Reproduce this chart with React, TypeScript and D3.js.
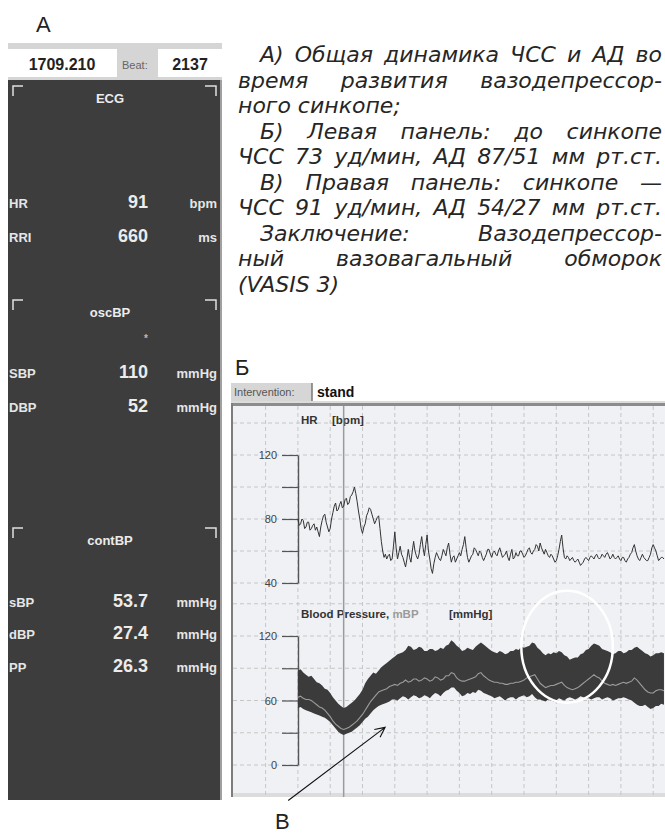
import React, { useRef, useEffect } from 'react';
import * as d3 from 'd3';

const W = 665;
const H = 834;

// monitor readout (panel A)
const timeValue = '1709.210';
const beatValue = '2137';
const groupNames = ['ECG', 'oscBP', 'contBP'];
const rowLabels = ['HR', 'RRI', 'SBP', 'DBP', 'sBP', 'dBP', 'PP'];
const rowValues = ['91', '660', '110', '52', '53.7', '27.4', '26.3'];
const rowUnits = ['bpm', 'ms', 'mmHg', 'mmHg', 'mmHg', 'mmHg', 'mmHg'];

// caption text, one entry per printed line
const captionLines = [
  'А) Общая динамика ЧСС и АД во',
  'время развития вазодепрессор-',
  'ного синкопе;',
  'Б) Левая панель: до синкопе',
  'ЧСС 73 уд/мин, АД 87/51 мм рт.ст.',
  'В) Правая панель: синкопе —',
  'ЧСС 91 уд/мин, АД 54/27 мм рт.ст.',
  'Заключение: Вазодепрессор-',
  'ный вазовагальный обморок',
  '(VASIS 3)',
];
const captionIndent = [true, false, false, true, false, true, false, true, false, false];
const captionJustify = [true, true, false, true, true, true, true, true, true, false];

// HR trace, bpm, one sample every 2.5 s starting at t = 120 s
const hrStart = 120;
const hrStep = 2.5;
const hrValues = [
  80, 76, 77, 80, 79, 74, 75, 78, 78, 73, 74, 76, 77, 73, 75, 72, 69, 75, 79, 82,
  83, 78, 75, 72, 74, 80, 84, 88, 90, 85, 86, 89, 91, 87, 88, 92, 93, 89, 90, 94,
  95, 97, 100, 96, 91, 85, 80, 74, 71, 75, 77, 82, 84, 87, 86, 83, 80, 77, 79, 81,
  82, 74, 66, 60, 56, 58, 55, 57, 58, 54, 55, 63, 72, 62, 55, 59, 63, 58, 56, 53,
  50, 55, 61, 56, 53, 60, 66, 60, 57, 55, 58, 64, 69, 62, 57, 64, 70, 60, 55, 49,
  46, 52, 56, 59, 57, 55, 54, 57, 61, 59, 57, 62, 65, 58, 53, 56, 57, 53, 55, 57,
  59, 57, 61, 64, 69, 62, 56, 53, 55, 57, 58, 62, 61, 59, 57, 60, 59, 56, 54, 56,
  58, 61, 61, 58, 56, 59, 60, 58, 57, 60, 62, 59, 56, 57, 58, 60, 56, 54, 58, 61,
  55, 56, 59, 57, 57, 60, 60, 58, 56, 57, 59, 61, 62, 59, 58, 60, 61, 64, 63, 60,
  65, 62, 60, 58, 61, 59, 57, 56, 58, 57, 55, 53, 54, 57, 61, 66, 70, 62, 56, 55,
  57, 56, 54, 55, 56, 54, 53, 54, 55, 53, 51, 52, 53, 55, 56, 55, 54, 56, 57, 56,
  55, 57, 58, 56, 55, 56, 58, 57, 56, 58, 59, 57, 55, 56, 58, 56, 55, 56, 57, 55,
  54, 56, 56, 54, 53, 55, 56, 58, 59, 62, 64, 60, 57, 55, 54, 56, 58, 56, 55, 54,
  54, 56, 58, 62, 64, 62, 60, 57, 54, 55, 56, 56, 55,
];

// blood pressure envelope and mean, mmHg, one sample every 5 s from t = 120 s
const bpStart = 120;
const bpStep = 5;
const bpSys = [
  88, 89, 86, 84, 82, 83, 80, 77, 76, 74, 71, 70, 67, 63, 60, 57, 55, 53, 54, 56,
  58, 60, 63, 66, 70, 76, 80, 83, 86, 85, 88, 91, 93, 95, 97, 99, 101, 103, 104, 105,
  107, 111, 110, 107, 108, 110, 109, 106, 106, 108, 108, 106, 107, 109, 108, 111, 112, 116, 114, 111,
  109, 106, 107, 109, 108, 107, 110, 112, 114, 112, 110, 108, 106, 105, 104, 106, 105, 103, 104, 106,
  106, 108, 107, 110, 109, 110, 111, 114, 113, 109, 107, 104, 102, 104, 103, 105, 104, 106, 105, 102,
  101, 98, 99, 100, 100, 103, 104, 107, 108, 111, 113, 112, 111, 108, 107, 106, 105, 103, 104, 106,
  106, 104, 105, 107, 107, 109, 110, 108, 106, 104, 103, 101, 102, 104, 104, 105, 104,
];
const bpDia = [
  53, 54, 52, 51, 50, 49, 48, 47, 46, 45, 44, 42, 40, 37, 34, 31, 29, 28, 29, 30,
  31, 33, 35, 37, 40, 43, 45, 48, 51, 53, 55, 56, 57, 58, 59, 61, 61, 60, 62, 64,
  63, 61, 63, 65, 64, 62, 63, 65, 64, 62, 65, 67, 66, 64, 67, 69, 70, 72, 72, 69,
  67, 64, 65, 67, 66, 68, 67, 70, 69, 67, 66, 65, 64, 62, 63, 64, 62, 60, 62, 63,
  63, 61, 63, 64, 65, 63, 64, 66, 63, 61, 61, 60, 59, 61, 60, 59, 60, 62, 61, 60,
  62, 63, 62, 61, 62, 64, 63, 62, 62, 61, 62, 63, 63, 61, 62, 63, 62, 60, 61, 62,
  62, 63, 62, 61, 60, 58, 56, 55, 55, 56, 54, 52, 53, 55, 55, 57, 56,
];
const bpMean = [
  63, 64, 62, 61, 61, 60, 58, 56, 54, 53, 51, 48, 45, 41, 38, 36, 34, 33, 34, 35,
  37, 39, 41, 44, 47, 51, 55, 59, 62, 65, 68, 69, 70, 71, 73, 74, 75, 74, 76, 77,
  79, 77, 78, 80, 80, 78, 79, 81, 80, 78, 79, 82, 81, 79, 80, 83, 83, 86, 85, 81,
  79, 78, 78, 79, 80, 81, 82, 85, 86, 83, 81, 79, 78, 77, 77, 76, 76, 75, 75, 76,
  76, 77, 77, 78, 79, 81, 82, 83, 84, 80, 76, 74, 72, 73, 74, 74, 75, 76, 77, 74,
  72, 71, 70, 71, 72, 74, 76, 78, 80, 82, 84, 82, 81, 78, 76, 75, 74, 75, 74, 75,
  76, 77, 76, 77, 78, 81, 79, 76, 73, 70, 68, 67, 67, 69, 70, 70, 69,
];

const hrTicks = [120, 100, 80, 60, 40];
const hrLabels = [120, 80, 40];
const bpTicks = [120, 90, 60, 30, 0];
const bpLabels = [120, 60, 0];
const cursorTime = 205;

const SANS = '"Liberation Sans", Arial, sans-serif';

const App = () => {
  const svgRef = useRef(null);

  useEffect(() => {
    const svg = d3.select(svgRef.current);
    svg.selectAll('*').remove();
    svg.append('rect').attr('width', W).attr('height', H).attr('fill', '#fff');

    // ---------- panel A: monitor ----------
    const mon = svg.append('g').attr('font-family', SANS).attr('font-weight', 'bold');
    mon.append('rect').attr('x', 8).attr('y', 43).attr('width', 214).attr('height', 37).attr('fill', '#d5d5d5');
    mon.append('rect').attr('x', 8).attr('y', 49).attr('width', 109).attr('height', 28).attr('fill', '#fff');
    mon.append('rect').attr('x', 158).attr('y', 49).attr('width', 64).attr('height', 28).attr('fill', '#fff');
    mon.append('text').attr('x', 62).attr('y', 70).attr('text-anchor', 'middle')
      .attr('font-size', 16).attr('fill', '#222').text(timeValue);
    mon.append('text').attr('x', 122).attr('y', 69).attr('font-weight', 'normal')
      .attr('font-size', 11).attr('fill', '#666').text('Beat:');
    mon.append('text').attr('x', 190).attr('y', 70).attr('text-anchor', 'middle')
      .attr('font-size', 16).attr('fill', '#222').text(beatValue);

    mon.append('rect').attr('x', 8).attr('y', 80).attr('width', 212).attr('height', 720).attr('fill', '#3d3d3d');
    mon.append('rect').attr('x', 220).attr('y', 80).attr('width', 2).attr('height', 720).attr('fill', '#a0a0a0');

    const groupY = [103, 317, 545];
    groupNames.forEach((g, i) => {
      const by = groupY[i] - 17;
      mon.append('path')
        .attr('d', `M13,${by + 10}V${by}H23 M205,${by}H216V${by + 10}`)
        .attr('fill', 'none').attr('stroke', '#e0e0e0').attr('stroke-width', 1.5);
      mon.append('text').attr('x', 110).attr('y', groupY[i]).attr('text-anchor', 'middle')
        .attr('font-size', 13).attr('fill', '#ececec').text(g);
    });
    mon.append('text').attr('x', 146).attr('y', 342).attr('text-anchor', 'middle')
      .attr('font-size', 10).attr('fill', '#bbb').text('*');

    const rowY = [208, 242, 378, 412, 607, 639, 672];
    rowLabels.forEach((lab, i) => {
      mon.append('text').attr('x', 9).attr('y', rowY[i]).attr('font-size', 13).attr('fill', '#e6e6e6').text(lab);
      mon.append('text').attr('x', 148).attr('y', rowY[i]).attr('text-anchor', 'end')
        .attr('font-size', 18).attr('fill', '#ececec').text(rowValues[i]);
      mon.append('text').attr('x', 217).attr('y', rowY[i]).attr('text-anchor', 'end')
        .attr('font-size', 13).attr('fill', '#e6e6e6').text(rowUnits[i]);
    });

    // ---------- caption (justified) ----------
    const fs = 22;
    const cap = svg.append('g')
      .attr('font-family', '"DejaVu Sans", Verdana, sans-serif')
      .attr('font-style', 'italic').attr('font-size', fs).attr('fill', '#262626');
    captionLines.forEach((line, i) => {
      const y = 62 + i * 25.5;
      const left = 238 + (captionIndent[i] ? 22 : 0);
      const right = 662;
      const words = line.split(' ');
      const nodes = words.map(w => cap.append('text').attr('y', y).text(w));
      const widths = nodes.map(n => n.node().getComputedTextLength());
      const space = fs * 0.318;
      let gap = space;
      if (captionJustify[i] && words.length > 1) {
        gap = Math.max(space * 0.7, (right - left - d3.sum(widths)) / (words.length - 1));
      }
      let cx = left;
      nodes.forEach((n, j) => {
        n.attr('x', cx);
        cx += widths[j] + gap;
      });
    });

    // ---------- panel Б: chart ----------
    const x = d3.scaleLinear().domain([0, 780]).range([233.3, 653.2]);
    const yHR = d3.scaleLinear().domain([40, 120]).range([583, 455]);
    const yBP = d3.scaleLinear().domain([0, 120]).range([765, 636]);

    const top = 406;
    const bottom = 797;
    const cg = svg.append('g');

    cg.append('rect').attr('x', 231).attr('y', 383).attr('width', 81).attr('height', 18).attr('fill', '#d6d6d6');
    cg.append('line').attr('x1', 312).attr('x2', 312).attr('y1', 383).attr('y2', 401)
      .attr('stroke', '#777').attr('stroke-width', 1.5);
    cg.append('text').attr('x', 234).attr('y', 396).attr('font-family', SANS)
      .attr('font-size', 11).attr('fill', '#555').text('Intervention:');
    cg.append('text').attr('x', 317).attr('y', 397).attr('font-family', SANS).attr('font-weight', 'bold')
      .attr('font-size', 14).attr('fill', '#111').text('stand');
    cg.append('rect').attr('x', 231).attr('y', 401).attr('width', W - 231).attr('height', 2).attr('fill', '#dcdcdc');
    cg.append('rect').attr('x', 231).attr('y', 403).attr('width', W - 231).attr('height', 3).attr('fill', '#8c8c8c');
    cg.append('rect').attr('x', 231).attr('y', top).attr('width', W - 231).attr('height', bottom - top).attr('fill', '#f0f1f4');
    cg.append('rect').attr('x', 231).attr('y', bottom - 4).attr('width', W - 231).attr('height', 4).attr('fill', '#dcdcdc');

    // grid
    const grid = cg.append('g').attr('stroke', '#c6c6c6').attr('stroke-dasharray', '4,3').attr('stroke-width', 1);
    d3.range(60, 801, 60).forEach(t => {
      grid.append('line').attr('x1', x(t)).attr('x2', x(t)).attr('y1', top).attr('y2', bottom);
    });
    d3.range(40, 141, 20).forEach(v => {
      grid.append('line').attr('x1', 233).attr('x2', W).attr('y1', yHR(v)).attr('y2', yHR(v));
    });
    d3.range(0, 151, 30).forEach(v => {
      grid.append('line').attr('x1', 233).attr('x2', W).attr('y1', yBP(v)).attr('y2', yBP(v));
    });

    cg.append('rect').attr('x', 231).attr('y', 403).attr('width', 2).attr('height', bottom - 403).attr('fill', '#7d7d7d');

    // axes
    const styleAxis = g => {
      g.select('.domain').attr('stroke', '#555').attr('stroke-width', 1.4);
      g.selectAll('.tick line').attr('stroke', '#555').attr('stroke-width', 1.2);
      g.selectAll('.tick text').attr('fill', '#444').attr('font-family', SANS).attr('font-size', 11);
    };
    cg.append('g').attr('transform', 'translate(298,0)')
      .call(d3.axisLeft(yHR).tickValues(hrTicks).tickSize(16).tickSizeOuter(0).tickPadding(5)
        .tickFormat(d => (hrLabels.includes(d) ? String(d) : '')))
      .call(styleAxis);
    cg.append('g').attr('transform', 'translate(298,0)')
      .call(d3.axisLeft(yBP).tickValues(bpTicks).tickSize(16).tickSizeOuter(0).tickPadding(5)
        .tickFormat(d => (bpLabels.includes(d) ? String(d) : '')))
      .call(styleAxis);

    // titles
    const tt = cg.append('g').attr('font-family', SANS).attr('font-weight', 'bold').attr('font-size', 11.5);
    tt.append('text').attr('x', 301).attr('y', 424).attr('fill', '#333').text('HR');
    tt.append('text').attr('x', 332).attr('y', 424).attr('fill', '#333').text('[bpm]');
    const bpt = tt.append('text').attr('x', 301).attr('y', 618).attr('fill', '#333');
    bpt.append('tspan').text('Blood Pressure, ');
    bpt.append('tspan').attr('fill', '#9a9a9a').text('mBP');
    tt.append('text').attr('x', 449).attr('y', 618).attr('fill', '#333').text('[mmHg]');

    // cursor
    cg.append('line').attr('x1', x(cursorTime)).attr('x2', x(cursorTime)).attr('y1', top).attr('y2', bottom)
      .attr('stroke', '#9a9a9a').attr('stroke-width', 1.5);

    // HR trace
    const hrLine = d3.line()
      .x((d, i) => x(hrStart + i * hrStep))
      .y(d => yHR(d));
    cg.append('path').datum(hrValues).attr('d', hrLine)
      .attr('fill', 'none').attr('stroke', '#333').attr('stroke-width', 1);

    // BP band and mean
    const bpIdx = d3.range(bpSys.length);
    const band = d3.area()
      .x(i => x(bpStart + i * bpStep))
      .y0(i => yBP(bpDia[i]))
      .y1(i => yBP(bpSys[i]));
    cg.append('path').datum(bpIdx).attr('d', band).attr('fill', '#3b3b3b');
    const meanLine = d3.line()
      .x((d, i) => x(bpStart + i * bpStep))
      .y(d => yBP(d));
    cg.append('path').datum(bpMean).attr('d', meanLine)
      .attr('fill', 'none').attr('stroke', '#9c9c9c').attr('stroke-width', 1.1);

    // annotation: white ellipse
    cg.append('ellipse').attr('cx', x(620)).attr('cy', yBP(110))
      .attr('rx', x(620 + 85) - x(620)).attr('ry', yBP(0) - yBP(52))
      .attr('fill', 'none').attr('stroke', '#fff').attr('stroke-width', 2.5);

    // annotation: arrow
    const x1 = x(102), y1 = yBP(-33), x2 = x(282), y2 = yBP(35);
    const ang = Math.atan2(y2 - y1, x2 - x1);
    const hl = 11;
    svg.append('path')
      .attr('d', `M${x1},${y1}L${x2},${y2}` +
        `M${x2 - hl * Math.cos(ang - 0.45)},${y2 - hl * Math.sin(ang - 0.45)}L${x2},${y2}` +
        `L${x2 - hl * Math.cos(ang + 0.45)},${y2 - hl * Math.sin(ang + 0.45)}`)
      .attr('fill', 'none').attr('stroke', '#111').attr('stroke-width', 1.1);

    // panel letters
    const lt = svg.append('g').attr('font-family', SANS).attr('font-size', 22).attr('fill', '#222');
    lt.append('text').attr('x', 36).attr('y', 32).text('А');
    lt.append('text').attr('x', 235).attr('y', 375).text('Б');
    lt.append('text').attr('x', 275).attr('y', 829).text('В');
  }, []);

  return (
    <svg ref={svgRef} width={W} height={H}
      style={{ position: 'absolute', left: 0, top: 0, display: 'block' }} />
  );
};

export default App;
